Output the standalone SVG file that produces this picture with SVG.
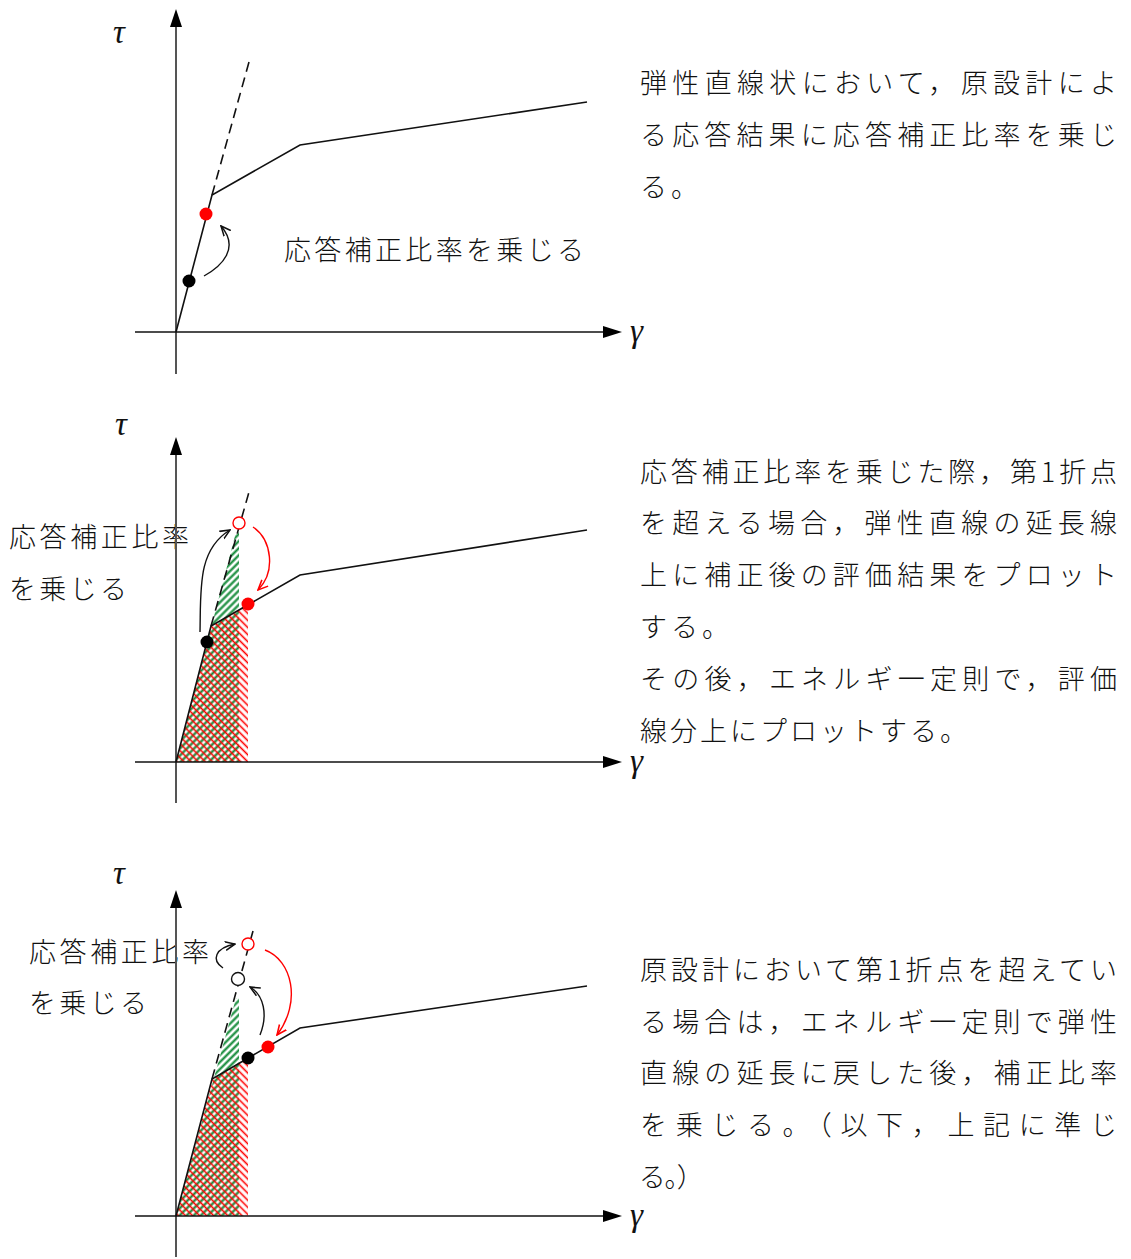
<svg xmlns="http://www.w3.org/2000/svg" width="1131" height="1259" viewBox="0 0 1131 1259">
<style>
.jp{font-family:"Noto Sans CJK JP","Noto Sans",sans-serif;font-size:27px;font-weight:300;fill:#111}
.sym{font-family:"Liberation Serif",serif;font-style:italic;font-size:33px;fill:#111}
.yax{stroke:#555;stroke-width:2;fill:none}
.xax{stroke:#111;stroke-width:1.6;fill:none}
.crv{stroke:#111;stroke-width:1.6;fill:none}
.dash{stroke:#111;stroke-width:1.6;fill:none;stroke-dasharray:10 6}
.arr{stroke:#111;stroke-width:1.4;fill:none;marker-end:url(#ok)}
.arrr{stroke:#f00;stroke-width:1.4;fill:none;marker-end:url(#or)}
</style>
<defs>
<marker id="ok" viewBox="0 0 10 10" refX="9" refY="5" markerWidth="11" markerHeight="11" markerUnits="userSpaceOnUse" orient="auto"><path d="M0,1 L9,5 L0,9" fill="none" stroke="#111" stroke-width="1.4"/></marker>
<marker id="or" viewBox="0 0 10 10" refX="9" refY="5" markerWidth="11" markerHeight="11" markerUnits="userSpaceOnUse" orient="auto"><path d="M0,1 L9,5 L0,9" fill="none" stroke="#f00" stroke-width="1.4"/></marker>
<pattern id="hg" patternUnits="userSpaceOnUse" width="5" height="5" patternTransform="rotate(45)"><line x1="1.5" y1="0" x2="1.5" y2="5" stroke="#138a38" stroke-width="2.2"/></pattern>
<pattern id="hr" patternUnits="userSpaceOnUse" width="5" height="5" patternTransform="rotate(-45)"><line x1="1.5" y1="0" x2="1.5" y2="5" stroke="#ff0000" stroke-width="1.6"/></pattern>
</defs>

<!-- Graph 1 -->
<g id="graph1">
<line class="yax" x1="176" y1="374" x2="176" y2="26"/>
<path d="M176,9 L170,27 L182,27 z" fill="#000"/>
<line class="xax" x1="135" y1="332" x2="604" y2="332"/>
<path d="M622,332 L603,326 L603,338 z" fill="#000"/>
<text class="sym" x="113" y="43">τ</text>
<text class="sym" x="630" y="342">γ</text>
<polyline class="crv" points="176,332 212,195 300,145 587,102"/>
<line class="dash" x1="212" y1="195" x2="249" y2="62"/>
<circle cx="189" cy="281" r="6.5" fill="#000"/>
<circle cx="206" cy="214" r="6.5" fill="#f00"/>
<path class="arr" d="M204,276 C222,266 240,248 221,226"/>
<text class="jp" x="284" y="260" textLength="300" lengthAdjust="spacing">応答補正比率を乗じる</text>
</g>
<g id="text1">
<text class="jp" x="640" y="93" textLength="477" lengthAdjust="spacing">弾性直線状において，原設計によ</text>
<text class="jp" x="640" y="145" textLength="477" lengthAdjust="spacing">る応答結果に応答補正比率を乗じ</text>
<text class="jp" x="640" y="197" letter-spacing="4">る。</text>
</g>

<!-- Graph 2 -->
<g id="graph2">
<polygon points="176,762 236,532 239,532 239,762" fill="url(#hg)"/>
<polygon points="176,762 211,626 248,604 248,762" fill="url(#hr)"/>
<text class="jp" x="9" y="547" textLength="180" lengthAdjust="spacing">応答補正比率</text>
<text class="jp" x="9" y="599" textLength="118" lengthAdjust="spacing">を乗じる</text>
<line class="yax" x1="176" y1="803" x2="176" y2="454"/>
<path d="M176,437 L170,455 L182,455 z" fill="#000"/>
<line class="xax" x1="135" y1="762" x2="604" y2="762"/>
<path d="M622,762 L603,756 L603,768 z" fill="#000"/>
<text class="sym" x="115" y="435">τ</text>
<text class="sym" x="630" y="772">γ</text>
<polyline class="crv" points="176,762 211,626 300,575 587,530"/>
<line class="dash" x1="211" y1="626" x2="249" y2="492"/>
<circle cx="207" cy="642" r="6.5" fill="#000"/>
<circle cx="248" cy="604" r="6.5" fill="#f00"/>
<circle cx="239" cy="523" r="6" fill="#fff" stroke="#f00" stroke-width="1.4"/>
<path class="arr" d="M200,632 C201,590 197,550 230,530"/>
<path class="arrr" d="M253,527 C272,540 276,572 258,590"/>
</g>
<g id="text2">
<text class="jp" x="640" y="482" textLength="477" lengthAdjust="spacing">応答補正比率を乗じた際，第1折点</text>
<text class="jp" x="640" y="533" textLength="477" lengthAdjust="spacing">を超える場合，弾性直線の延長線</text>
<text class="jp" x="640" y="585" textLength="477" lengthAdjust="spacing">上に補正後の評価結果をプロット</text>
<text class="jp" x="640" y="637" letter-spacing="4">する。</text>
<text class="jp" x="640" y="689" textLength="477" lengthAdjust="spacing">その後，エネルギ一定則で，評価</text>
<text class="jp" x="640" y="741" letter-spacing="3">線分上にプロットする。</text>
</g>

<!-- Graph 3 -->
<g id="graph3">
<polygon points="176,1216 236,998 239,998 239,1216" fill="url(#hg)"/>
<polygon points="176,1216 212,1079 248,1058 248,1216" fill="url(#hr)"/>
<text class="jp" x="29" y="962" textLength="180" lengthAdjust="spacing">応答補正比率</text>
<text class="jp" x="29" y="1013" textLength="118" lengthAdjust="spacing">を乗じる</text>
<line class="yax" x1="176" y1="1257" x2="176" y2="907"/>
<path d="M176,890 L170,908 L182,908 z" fill="#000"/>
<line class="xax" x1="135" y1="1216" x2="604" y2="1216"/>
<path d="M622,1216 L603,1210 L603,1222 z" fill="#000"/>
<text class="sym" x="113" y="884">τ</text>
<text class="sym" x="630" y="1226">γ</text>
<polyline class="crv" points="176,1216 212,1079 300,1028 587,986"/>
<line class="dash" x1="212" y1="1079" x2="253" y2="931"/>
<circle cx="248" cy="1058" r="6.5" fill="#000"/>
<circle cx="268" cy="1047" r="6.5" fill="#f00"/>
<circle cx="238" cy="979" r="6.5" fill="#fff" stroke="#111" stroke-width="1.4"/>
<circle cx="248" cy="944" r="6" fill="#fff" stroke="#f00" stroke-width="1.4"/>
<path class="arr" d="M260,1035 C268,1015 264,995 250,987"/>
<path class="arr" d="M223,968 C211,960 215,948 235,944"/>
<path class="arrr" d="M265,950 C292,960 302,1002 277,1035"/>
</g>
<g id="text3">
<text class="jp" x="640" y="980" textLength="477" lengthAdjust="spacing">原設計において第1折点を超えてい</text>
<text class="jp" x="640" y="1032" textLength="477" lengthAdjust="spacing">る場合は，エネルギ一定則で弾性</text>
<text class="jp" x="640" y="1083" textLength="477" lengthAdjust="spacing">直線の延長に戻した後，補正比率</text>
<text class="jp" x="640" y="1135" textLength="477" lengthAdjust="spacing">を乗じる。（以下，上記に準じ</text>
<text class="jp" x="640" y="1187" style="font-feature-settings:'palt'">る。）</text>
</g>
</svg>
